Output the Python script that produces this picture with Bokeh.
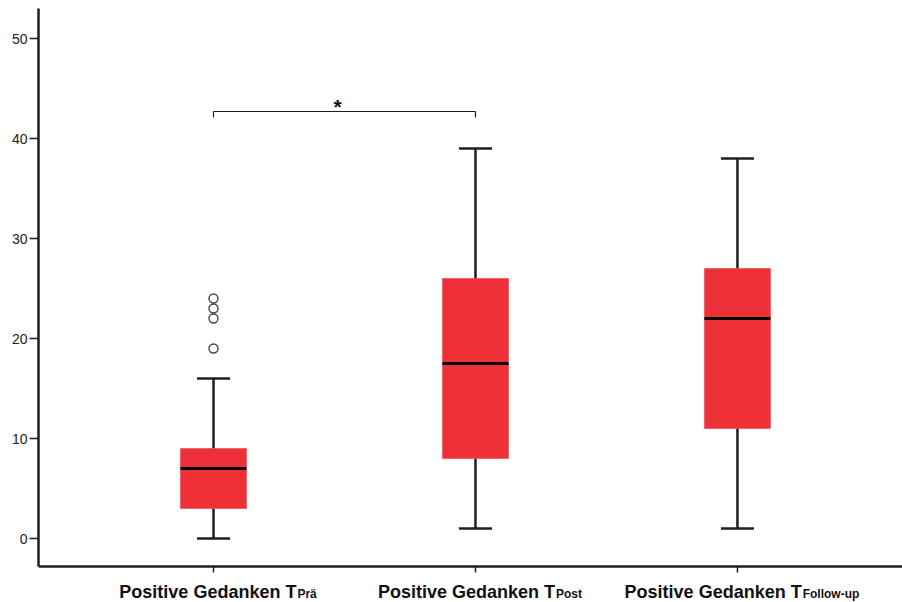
import numpy as np
from bokeh.plotting import figure
from bokeh.models import Range1d, LinearAxis, FixedTicker, ColumnDataSource, Span
from bokeh.core.properties import value
from bokeh.embed import file_html
from bokeh.resources import INLINE

# ---- data ----
categories = ["Positive Gedanken T", "Positive Gedanken T", "Positive Gedanken T"]
subscripts = ["Prä", "Post", "Follow-up"]
lower_whisker = [0, 1, 1]
q1 = [3, 8, 11]
median = [7, 17.5, 22]
q3 = [9, 26, 27]
upper_whisker = [16, 39, 38]
outlier_group = [1, 1, 1, 1]
outlier_values = [19, 22, 23, 24]
y_ticks = [0, 10, 20, 30, 40, 50]
sig_pair = [1, 2]
sig_level = 42.7
sig_label = "*"

xs = list(np.arange(1, len(categories) + 1))

# ---- style ----
RED = "#ee3139"
AX = "#1e1e1e"
FONT = "Liberation Sans"
box_w = 0.252
cap_w = 0.126
axis_y = -2.8

p = figure(width=902, height=602,
           x_range=Range1d(0.332, 3.630), y_range=Range1d(-6.4, 53.8),
           output_backend="svg", toolbar_location=None,
           x_axis_location=None, y_axis_location=None,
           min_border_left=38, min_border_right=0,
           min_border_top=0, min_border_bottom=0)
p.outline_line_color = None
p.grid.visible = False
p.background_fill_color = "white"
p.border_fill_color = "white"

yaxis = LinearAxis(bounds=(axis_y, 53.0), ticker=FixedTicker(ticks=y_ticks))
yaxis.axis_line_width = 2.5
yaxis.axis_line_color = AX
yaxis.major_tick_line_width = 1.5
yaxis.major_tick_line_color = AX
yaxis.major_tick_out = 9
yaxis.major_tick_in = 0
yaxis.minor_tick_line_color = None
yaxis.major_label_text_font = FONT
yaxis.major_label_text_font_size = "14px"
yaxis.major_label_text_color = "#222222"
yaxis.major_label_standoff = 2
p.add_layout(yaxis, "left")

# x-axis baseline and ticks
p.add_layout(Span(location=axis_y, dimension="width", line_color=AX, line_width=2.5))
p.segment(x0=xs, y0=[axis_y] * 3, x1=xs, y1=[axis_y - 0.6] * 3,
          line_color=AX, line_width=1.5)

# whiskers
p.segment(x0=xs, y0=q3, x1=xs, y1=upper_whisker, line_color=AX, line_width=2.5)
p.segment(x0=xs, y0=lower_whisker, x1=xs, y1=q1, line_color=AX, line_width=2.5)
p.segment(x0=[x - cap_w / 2 for x in xs], y0=upper_whisker,
          x1=[x + cap_w / 2 for x in xs], y1=upper_whisker, line_color=AX, line_width=2.5)
p.segment(x0=[x - cap_w / 2 for x in xs], y0=lower_whisker,
          x1=[x + cap_w / 2 for x in xs], y1=lower_whisker, line_color=AX, line_width=2.5)

# boxes
p.vbar(x=xs, width=box_w, bottom=q1, top=q3, fill_color=RED, line_color=RED, line_width=0.5)
# medians
p.segment(x0=[x - box_w / 2 for x in xs], y0=median,
          x1=[x + box_w / 2 for x in xs], y1=median, line_color="#000000", line_width=3)

# outliers
p.scatter(x=outlier_group, y=outlier_values, marker="circle", size=9,
          fill_color="white", line_color="#444444", line_width=1.4)

# significance bracket
p.segment(x0=[sig_pair[0]], y0=[sig_level], x1=[sig_pair[1]], y1=[sig_level],
          line_color=AX, line_width=1.2)
p.segment(x0=sig_pair, y0=[sig_level] * 2, x1=sig_pair, y1=[sig_level - 0.6] * 2,
          line_color=AX, line_width=1.2)
p.text(x=[sum(sig_pair) / 2], y=[sig_level + 0.5], text=[sig_label], x_offset=-7,
       text_align="center", text_baseline="alphabetic",
       text_font=value(FONT), text_font_style="bold", text_font_size="21px",
       text_color="#111111")

# category labels with subscripts
main_w = 177.1
sub_ws = [19.3, 26.0, 56.7]
offs = [(main_w - s) / 2 + 4 for s in sub_ws]
src = ColumnDataSource(dict(x=xs, main=categories, sub=subscripts,
                            off=offs, off2=[o + 1 for o in offs],
                            y1=[-5.3] * 3, y2=[-5.5] * 3))
p.text(x="x", y="y1", text="main", x_offset="off", source=src,
       text_align="right", text_baseline="alphabetic",
       text_font=value(FONT), text_font_style="bold", text_font_size="18px",
       text_color="#111111")
p.text(x="x", y="y2", text="sub", x_offset="off2", source=src,
       text_align="left", text_baseline="alphabetic",
       text_font=value(FONT), text_font_style="bold", text_font_size="12px",
       text_color="#111111")

open("out.html", "w").write(file_html(p, INLINE))
